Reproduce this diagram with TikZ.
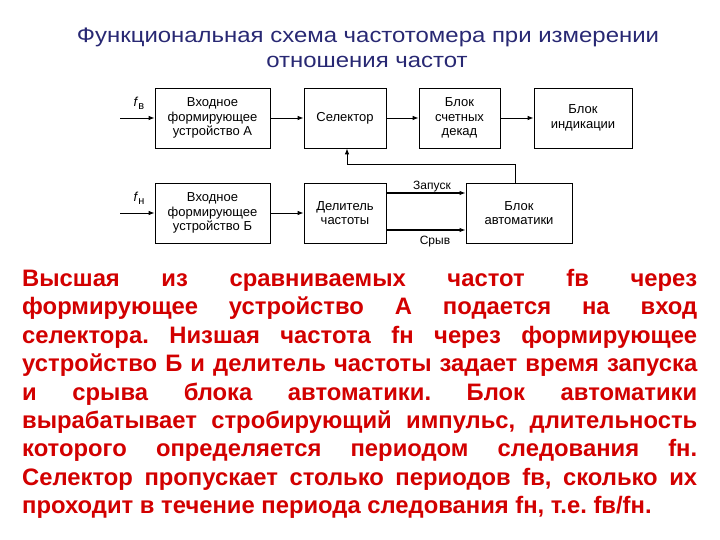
\documentclass[tikz,border=0pt]{standalone}
\usepackage{fontspec}
\setmainfont{Liberation Sans}
\usetikzlibrary{arrows.meta}
\definecolor{titleblue}{RGB}{40,40,115}
\definecolor{textred}{RGB}{210,0,0}
\frenchspacing
\tikzset{
  blk/.style={draw=black, line width=0.8pt, rectangle, align=center, inner sep=1pt,
    font=\fontsize{13}{14.5}\selectfont},
  arr/.style={line width=0.8pt, -{Latex[length=6pt,width=4.5pt]}},
  sig/.style={line width=1.6pt, -{Latex[length=6pt,width=4.5pt]}},
  lbl/.style={font=\fontsize{12}{14}\selectfont, inner sep=0pt},
  ttl/.style={font=\fontsize{21}{24}\selectfont, text=titleblue, inner sep=0pt},
  par/.style={font=\fontsize{23.8}{28}\bfseries\selectfont, text=textred, inner sep=0pt, anchor=west}
}
\begin{document}
\begin{tikzpicture}[x=1pt,y=-1pt]
\useasboundingbox (0,0) rectangle (720,540);
% title
\node[ttl] (t1) at (368,37) {\scalebox{1.14}[1]{Функциональная схема частотомера при измерении}};
\node[ttl] (t2) at (367,62) {\scalebox{1.14}[1]{отношения частот}};
% blocks
\node[blk, minimum width=115pt, minimum height=60pt] (A) at (212.5,118) {Входное\\формирующее\\устройство А};
\node[blk, minimum width=82pt, minimum height=60pt] (Sel) at (345,118) {Селектор};
\node[blk, minimum width=81pt, minimum height=60pt] (Cnt) at (459.5,118) {Блок\\счетных\\декад};
\node[blk, minimum width=98pt, minimum height=60pt] (Ind) at (583,118) {Блок\\индикации};
\node[blk, minimum width=115pt, minimum height=60pt] (B) at (212.5,213) {Входное\\формирующее\\устройство Б};
\node[blk, minimum width=82pt, minimum height=60pt] (Del) at (345,213) {Делитель\\частоты};
\node[blk, minimum width=106pt, minimum height=60pt] (Aut) at (519,213) {Блок\\автоматики};
% inputs
\coordinate (inA) at (120,118);
\coordinate (inB) at (120,213);
\node[lbl, font=\fontsize{13}{14}\selectfont] (fv) at (139,103) {\textit{f}\raisebox{-3pt}{\fontsize{11}{12}\selectfont в}};
\node[lbl, font=\fontsize{13}{14}\selectfont] (fn) at (139,198) {\textit{f}\raisebox{-3pt}{\fontsize{11}{12}\selectfont н}};
\draw[arr] (inA) -- (A);
\draw[arr] (inB) -- (B);
\draw[arr] (A) -- (Sel);
\draw[arr] (Sel) -- (Cnt);
\draw[arr] (Cnt) -- (Ind);
\draw[arr] (B) -- (Del);
\draw[sig] ([yshift=20pt]Del.east) -- ([yshift=20pt]Aut.west);
\draw[sig] ([yshift=-17pt]Del.east) -- ([yshift=-17pt]Aut.west);
\node[lbl] (zap) at (432,187) {Запуск};
\node[lbl] (sr) at (435,242) {Срыв};
\draw[arr] ([xshift=-4pt]Aut.north) -- ++(0,-18) -| ([xshift=2pt]Sel.south);
% paragraph
\node[par] (p1) at (22,280) {\makebox[675pt][s]{Высшая из сравниваемых частот fв через}};
\node[par] (p2) at (22,308.5) {\makebox[675pt][s]{формирующее устройство А подается на вход}};
\node[par] (p3) at (22,337) {\makebox[675pt][s]{селектора. Низшая частота fн через формирующее}};
\node[par] (p4) at (22,365.5) {\makebox[675pt][s]{устройство Б и делитель частоты задает время запуска}};
\node[par] (p5) at (22,394) {\makebox[675pt][s]{и срыва блока автоматики. Блок автоматики}};
\node[par] (p6) at (22,422) {\makebox[675pt][s]{вырабатывает стробирующий импульс, длительность}};
\node[par] (p7) at (22,450.5) {\makebox[675pt][s]{которого определяется периодом следования fн.}};
\node[par] (p8) at (22,479) {\makebox[675pt][s]{Селектор пропускает столько периодов fв, сколько их}};
\node[par] (p9) at (22,507) {проходит в течение периода следования fн, т.е. fв/fн.};
\end{tikzpicture}
\end{document}
